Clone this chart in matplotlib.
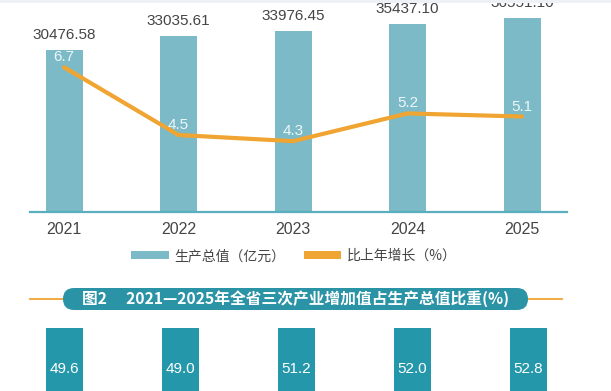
import matplotlib
matplotlib.use("Agg")
import matplotlib.pyplot as plt
from matplotlib.patches import FancyBboxPatch, Patch, Rectangle
from matplotlib.lines import Line2D
import matplotlib.transforms as mtransforms

plt.rcParams['font.family'] = ['Liberation Sans', 'Noto Sans CJK SC', 'DejaVu Sans']

years = ["2021", "2022", "2023", "2024", "2025"]
gdp = [30476.58, 33035.61, 33976.45, 35437.10, 36551.10]
gdp_labels = ["30476.58", "33035.61", "33976.45", "35437.10", "36551.10"]
growth = [6.7, 4.5, 4.3, 5.2, 5.1]
tertiary_share = [49.6, 49.0, 51.2, 52.0, 52.8]
legend_labels = ["生产总值（亿元）", "比上年增长（%）"]
title2 = "图2\u3000 2021—2025年全省三次产业增加值占生产总值比重(%)"

W, H = 611, 391
fig = plt.figure(figsize=(W / 100, H / 100), dpi=100)
fig.patch.set_facecolor("white")

BAR_C = "#7bbac6"
LINE_C = "#f0a532"
BASE_C = "#5aafbe"
DARK_C = "#2597aa"
TEXT_C = "#454545"

def fx(px):
    return px / W

def fy(py):
    return 1 - py / H

# light strip at very top
fig.add_artist(Rectangle((0, fy(3)), 1, 3 / H, transform=fig.transFigure,
                         facecolor="#eef2f6", edgecolor="none"))

# ---------- top chart ----------
left_px, right_px = 30, 567
base_px = 212
ax = fig.add_axes([fx(left_px), fy(base_px), fx(right_px - left_px), base_px / H])
x = list(range(len(years)))
c0, sp = 64, 114.5
ax.set_xlim((left_px - c0) / sp, (right_px - c0) / sp)
ax.set_ylim(0, base_px / 0.005316)
ax.bar(x, gdp, width=37 / sp, color=BAR_C, zorder=2)
for xi, v, lab in zip(x, gdp, gdp_labels):
    ax.annotate(lab, (xi, v), xytext=(0, 8), textcoords="offset pixels",
                ha="center", va="bottom", fontsize=11, color=TEXT_C,
                annotation_clip=False, clip_on=False)
for s in ["top", "right", "left"]:
    ax.spines[s].set_visible(False)
ax.spines["bottom"].set_color(BASE_C)
ax.spines["bottom"].set_linewidth(1.6)
ax.set_yticks([])
ax.set_xticks(x)
ax.set_xticklabels(years, fontsize=11.5, color=TEXT_C)
ax.tick_params(axis="x", length=0, pad=7)
ax.patch.set_alpha(0)

ax2 = ax.twinx()
ax2.set_ylim(2.0, 2.0 + base_px / 30.8)
ax2.plot(x, growth, color=LINE_C, lw=3, zorder=3, solid_joinstyle="round",
         solid_capstyle="round")
for xi, v in zip(x, growth):
    ax2.annotate(f"{v:.1f}", (xi, v), xytext=(0, 3), textcoords="offset pixels",
                 ha="center", va="bottom", fontsize=11, color="#eef7f9")
ax2.axis("off")

# legend
handles = [Patch(facecolor=BAR_C, edgecolor="none"), Patch(facecolor=LINE_C, edgecolor="none")]
fig.legend(handles, legend_labels, loc="center", bbox_to_anchor=(fx(294), fy(256)),
           ncol=2, frameon=False, handlelength=2.7, handleheight=0.45,
           handletextpad=0.4, columnspacing=1.3, labelcolor=TEXT_C,
           prop={"family": ["Noto Sans CJK SC"], "size": 10})

# ---------- section 2 header ----------
fig.add_artist(Line2D([fx(30), fx(562)], [fy(299), fy(299)], transform=fig.transFigure,
                      color=LINE_C, lw=1.3, zorder=1))
box_l, box_r, box_t, box_b = 63, 528, 288, 310
r = (box_b - box_t) / 2
pill = FancyBboxPatch((box_l, H - box_b), box_r - box_l, box_b - box_t,
                      boxstyle=f"round,pad=0,rounding_size={r}",
                      facecolor="#2b93a6", edgecolor="none", zorder=3)
pill.set_transform(mtransforms.IdentityTransform())
fig.add_artist(pill)
fig.text(fx((box_l + box_r) / 2), fy((box_t + box_b) / 2), title2, ha="center", va="center",
         fontsize=11.3, color="white", fontweight="bold", zorder=4,
         family=["Noto Sans CJK SC", "DejaVu Sans"])

# ---------- bottom chart ----------
bl, br = 30, 567
axb = fig.add_axes([fx(bl), 0, fx(br - bl), (H - 328) / H])
cb0, spb = 64.5, 115.9
axb.set_xlim((bl - cb0) / spb, (br - cb0) / spb)
axb.set_ylim(100 - (H - 328) / 1.64, 100)
bottoms = [100 - v for v in tertiary_share]
axb.bar(x, tertiary_share, bottom=bottoms, width=37 / spb, color=DARK_C)
for xi, v in zip(x, tertiary_share):
    axb.text(xi, 100 - 41 / 1.64, f"{v:.1f}", ha="center", va="center",
             fontsize=11, color="white")
axb.axis("off")

fig.savefig("out.png", dpi=100, facecolor="white")
